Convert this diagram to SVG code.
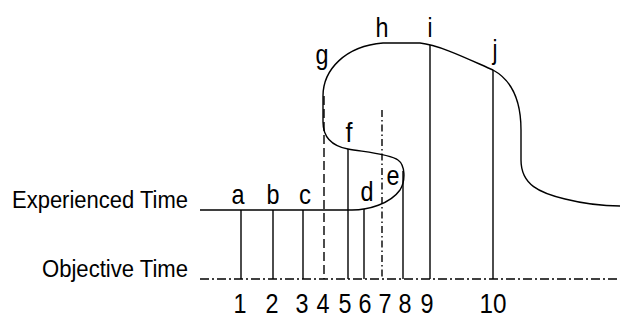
<svg xmlns="http://www.w3.org/2000/svg" width="620" height="321" viewBox="0 0 620 321">
<style>
.ln{stroke:#000;stroke-width:1.4;fill:none}
.dash{stroke-dasharray:9 4}
.dd{stroke-dasharray:7 3 1.5 3}
.obj{stroke-dasharray:9 3 2 3}
.lbl{font-family:"Liberation Sans",Arial,sans-serif;font-size:28px;fill:#000;text-anchor:middle}
.ax{font-family:"Liberation Sans",Arial,sans-serif;font-size:23px;fill:#000}
</style>
<rect width="620" height="321" fill="#fff"/>
<g id="axis-labels">
<text class="ax" x="12" y="208" textLength="176" lengthAdjust="spacingAndGlyphs">Experienced Time</text>
<text class="ax" x="42" y="277" textLength="146" lengthAdjust="spacingAndGlyphs">Objective Time</text>
</g>
<g id="connectors">
<path class="ln obj" d="M200,279 L620,279"/>
<path class="ln" d="M200,210 L352,210 C368,210 390,204 400,190 C406,180 405,165 398,160 C390,154 365,152 348,149 C332,146 323,138 323,122 L323,96 C323,70 345,46 383,43 L420,43 C440,45 470,60 493,70 C515,82 521,105 521,130 L521,160 C521,185 540,193 565,199 C585,204 600,206 620,206"/>
<line class="ln" x1="241" y1="210" x2="241" y2="279"/>
<line class="ln" x1="273" y1="210" x2="273" y2="279"/>
<line class="ln" x1="303" y1="210" x2="303" y2="279"/>
<line class="ln dash" x1="324" y1="96" x2="324" y2="279"/>
<line class="ln" x1="348" y1="149" x2="348" y2="279"/>
<line class="ln" x1="364" y1="209" x2="364" y2="279"/>
<line class="ln dd" x1="382" y1="110" x2="382" y2="279"/>
<line class="ln" x1="403" y1="171" x2="403" y2="279"/>
<line class="ln" x1="430" y1="45" x2="430" y2="279"/>
<line class="ln" x1="493" y1="70" x2="493" y2="279"/>
</g>
<g id="letters">
<text class="lbl" x="238" y="204" textLength="13" lengthAdjust="spacingAndGlyphs">a</text>
<text class="lbl" x="273" y="204" textLength="13" lengthAdjust="spacingAndGlyphs">b</text>
<text class="lbl" x="305" y="204" textLength="12" lengthAdjust="spacingAndGlyphs">c</text>
<text class="lbl" x="367" y="201" textLength="13" lengthAdjust="spacingAndGlyphs">d</text>
<text class="lbl" x="393" y="185" textLength="13" lengthAdjust="spacingAndGlyphs">e</text>
<text class="lbl" x="349" y="142" textLength="7" lengthAdjust="spacingAndGlyphs">f</text>
<text class="lbl" x="322" y="64" textLength="13" lengthAdjust="spacingAndGlyphs">g</text>
<text class="lbl" x="382" y="37" textLength="13" lengthAdjust="spacingAndGlyphs">h</text>
<text class="lbl" x="430" y="37" textLength="5" lengthAdjust="spacingAndGlyphs">i</text>
<text class="lbl" x="495" y="59" textLength="5" lengthAdjust="spacingAndGlyphs">j</text>
</g>
<g id="numbers">
<text class="lbl" x="240" y="313" textLength="13" lengthAdjust="spacingAndGlyphs">1</text>
<text class="lbl" x="272" y="313" textLength="13" lengthAdjust="spacingAndGlyphs">2</text>
<text class="lbl" x="302" y="313" textLength="13" lengthAdjust="spacingAndGlyphs">3</text>
<text class="lbl" x="323" y="313" textLength="13" lengthAdjust="spacingAndGlyphs">4</text>
<text class="lbl" x="345" y="313" textLength="13" lengthAdjust="spacingAndGlyphs">5</text>
<text class="lbl" x="365" y="313" textLength="13" lengthAdjust="spacingAndGlyphs">6</text>
<text class="lbl" x="385" y="313" textLength="13" lengthAdjust="spacingAndGlyphs">7</text>
<text class="lbl" x="405" y="313" textLength="13" lengthAdjust="spacingAndGlyphs">8</text>
<text class="lbl" x="427" y="313" textLength="13" lengthAdjust="spacingAndGlyphs">9</text>
<text class="lbl" x="493" y="313" textLength="27" lengthAdjust="spacingAndGlyphs">10</text>
</g>
</svg>
